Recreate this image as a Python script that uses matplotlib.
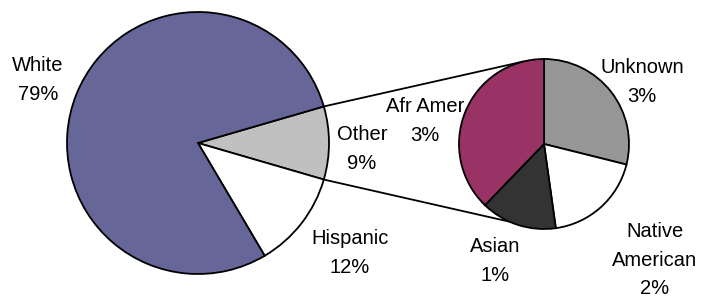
import numpy as np
import matplotlib
matplotlib.use("Agg")
import matplotlib.pyplot as plt

plt.rcParams['font.family'] = ['Liberation Sans', 'DejaVu Sans']

# main pie
main_labels = ["Other", "Hispanic", "White"]
main_values = [9, 12, 79]
main_colors = ["#C0C0C0", "#FFFFFF", "#666699"]

# breakdown of "Other"
sub_labels = ["Unknown", "Native\nAmerican", "Asian", "Afr Amer"]
sub_values = [2.6, 1.7, 1.3, 3.4]
sub_colors = ["#969696", "#FFFFFF", "#333333", "#993366"]

# label positions (pixels, y down)
main_label_pos = [(362, 149), (350, 253), (38, 80)]
sub_label_pos = [(642, 82), (655, 260), (495, 261), (425, 121)]

H = 299
fig = plt.figure(figsize=(7.02, 2.99), dpi=100)
ax = fig.add_axes([0, 0, 1, 1])

c1, r1 = (198, H - 143), 131
c2, r2 = (544, H - 144), 85

wp = dict(edgecolor='black', linewidth=1.3)
start1 = 360 * main_values[0] / sum(main_values) / 2
ax.pie(main_values, colors=main_colors, center=c1, radius=r1,
       startangle=start1, counterclock=False, wedgeprops=wp, frame=True)
ax.pie(sub_values, colors=sub_colors, center=c2, radius=r2,
       startangle=90, counterclock=False, wedgeprops=wp, frame=True)
ax.set_xlim(0, 702)
ax.set_ylim(0, H)
ax.set_aspect('equal')
ax.axis('off')

# connector lines
for a1, a2 in [(start1, 104), (-start1, 246)]:
    p1 = (c1[0] + r1 * np.cos(np.radians(a1)), c1[1] + r1 * np.sin(np.radians(a1)))
    p2 = (c2[0] + r2 * np.cos(np.radians(a2)), c2[1] + r2 * np.sin(np.radians(a2)))
    ax.plot([p1[0], p2[0]], [p1[1], p2[1]], color='black', lw=1.3, zorder=0.8)

for lab, v, (x, y) in zip(main_labels, main_values, main_label_pos):
    ax.text(x, H - y, f"{lab}\n{round(v)}%", ha='center', va='center',
            fontsize=14.5, linespacing=1.65, zorder=0.5)
tot = sum(sub_values)
for lab, v, (x, y) in zip(sub_labels, sub_values, sub_label_pos):
    pct = v / tot * main_values[0]
    ax.text(x, H - y, f"{lab}\n{round(pct)}%", ha='center', va='center',
            fontsize=14.5, linespacing=1.65, zorder=0.5)

fig.savefig("out.png", dpi=100)
